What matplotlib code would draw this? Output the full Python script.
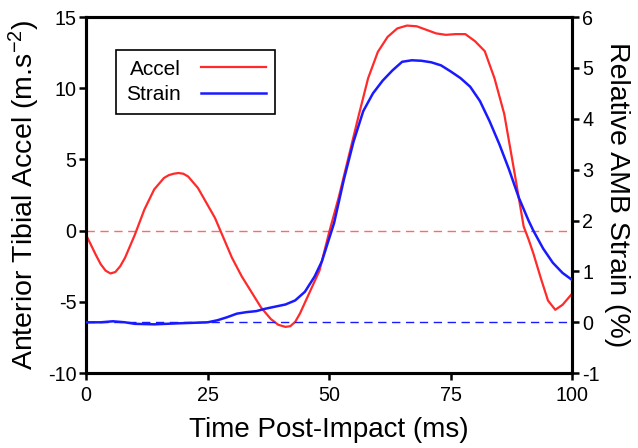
import matplotlib
matplotlib.use("Agg")
import matplotlib.pyplot as plt
from matplotlib.lines import Line2D

plt.rcParams['font.family'] = ['Liberation Sans', 'DejaVu Sans']
plt.rcParams['mathtext.fontset'] = 'custom'
plt.rcParams['mathtext.rm'] = 'Liberation Sans'
plt.rcParams['mathtext.it'] = 'Liberation Sans'
plt.rcParams['axes.unicode_minus'] = False

# accel trace (left axis, m.s-2)
accel_t = [0, 1, 2, 3, 4, 5, 6, 7, 8, 10, 12, 14, 16, 17, 18, 19, 20, 21, 23,
           25, 26.5, 28, 30, 32, 34, 36, 38, 39.5, 41, 42, 43, 44, 46, 48, 50,
           52, 54, 56, 58, 60, 62, 64, 66, 68, 70, 72, 74, 76, 78, 80, 82, 84,
           86, 88, 90, 91, 92, 93.5, 95, 96.5, 98, 100]
accel = [-0.3, -1.0, -1.7, -2.35, -2.8, -3.0, -2.9, -2.5, -1.9, -0.3, 1.5,
         2.9, 3.7, 3.9, 4.0, 4.05, 4.0, 3.8, 3.0, 1.8, 0.9, -0.3, -1.9, -3.2,
         -4.3, -5.4, -6.2, -6.6, -6.75, -6.7, -6.4, -5.8, -4.3, -2.8, -0.1, 2.4,
         5.2, 8.0, 10.7, 12.55, 13.6, 14.2, 14.4, 14.35, 14.1, 13.85, 13.75,
         13.8, 13.8, 13.3, 12.6, 10.7, 8.2, 4.3, 0.3, -0.6, -1.6, -3.3, -4.9,
         -5.55, -5.2, -4.4]

# strain trace (right axis, %)
strain_t = [0, 3, 5.5, 8, 10, 14, 19, 25, 27, 29, 31, 33, 35, 37, 39, 41, 43,
            45, 47, 48.5, 50, 51, 53, 55, 57, 59, 61, 63, 65, 67, 69, 71, 73,
            75, 77, 79, 81, 83, 85, 87, 89, 91, 92, 94, 96, 98, 100]
strain = [0.0, 0.0, 0.02, 0.0, -0.03, -0.04, -0.02, 0.0, 0.04, 0.1, 0.17, 0.2,
          0.22, 0.27, 0.31, 0.35, 0.43, 0.6, 0.9, 1.2, 1.65, 1.95, 2.8, 3.55,
          4.15, 4.5, 4.75, 4.95, 5.12, 5.15, 5.14, 5.11, 5.05, 4.93, 4.8, 4.63,
          4.35, 3.95, 3.5, 3.0, 2.45, 2.0, 1.8, 1.45, 1.17, 0.97, 0.83]

red = '#ff2a2a'
blue = '#1a1aff'

fig = plt.figure(figsize=(6.38, 4.48), dpi=100)
ax1 = fig.add_axes([0.135, 0.167, 0.762, 0.795])
ax2 = ax1.twinx()

ax1.axhline(0, color=red, lw=1.0, ls=(0, (6, 4)), alpha=0.7)
ax2.axhline(0, color=blue, lw=1.0, ls=(0, (6, 4)))
ax1.plot(accel_t, accel, color=red, lw=1.6, zorder=3)
ax2.plot(strain_t, strain, color=blue, lw=1.8, zorder=3)

ax1.set_xlim(0, 100)
ax1.set_ylim(-10, 15)
ax2.set_ylim(-1, 6)
ax1.set_xticks([0, 25, 50, 75, 100])
ax1.set_yticks([-10, -5, 0, 5, 10, 15])
ax2.set_yticks([-1, 0, 1, 2, 3, 4, 5, 6])

for ax in (ax1, ax2):
    for s in ax.spines.values():
        s.set_linewidth(2.2)
    ax.tick_params(direction='out', length=5, width=1.8, labelsize=14.2, pad=2)
ax1.tick_params(axis='x', pad=4)

ax1.set_xlabel('Time Post-Impact (ms)', fontsize=20, labelpad=9)
ax1.set_ylabel('Anterior Tibial Accel (m.s$^{-2}$)', fontsize=20.5, labelpad=4)
ax2.set_ylabel('Relative AMB Strain (%)', fontsize=20.5, rotation=270, labelpad=22)

handles = [Line2D([], [], color=red, lw=1.6), Line2D([], [], color=blue, lw=1.8)]
leg = ax1.legend(handles, ['Accel', 'Strain'], loc='upper left',
                 bbox_to_anchor=(0.062, 0.907), borderaxespad=0,
                 markerfirst=False, fontsize=15,
                 fancybox=False, framealpha=1, edgecolor='black',
                 handlelength=3.1, handletextpad=1.0, borderpad=0.45,
                 labelspacing=0.32)
leg.get_frame().set_linewidth(1.2)

fig.savefig('out.png', dpi=100)
